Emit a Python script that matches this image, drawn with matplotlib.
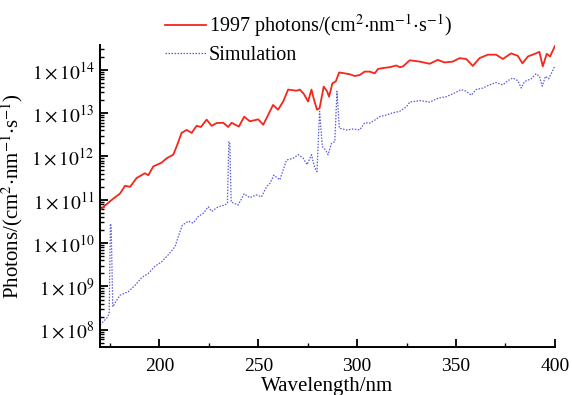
import matplotlib
matplotlib.use('Agg')
from matplotlib import pyplot as plt
from matplotlib.ticker import FixedLocator, FixedFormatter, MultipleLocator, LogLocator

plt.rcParams['font.family'] = ['Liberation Serif', 'DejaVu Serif']
plt.rcParams['mathtext.fontset'] = 'stix'

# measured spectrum (1997)
wl_1997 = [170.0, 175.9, 180.1, 182.6, 185.2, 188.5, 192.7, 194.4, 196.9, 201.1,
           203.7, 207.0, 208.7, 211.2, 213.8, 216.3, 218.8, 221.0, 223.9, 226.4,
           228.9, 232.3, 234.8, 236.5, 240.2, 242.9, 245.7, 248.3, 250.0, 252.5,
           255.0, 257.5, 260.0, 262.6, 265.1, 269.3, 271.0, 273.0, 275.2, 276.9,
           278.0, 279.7, 281.0, 283.1, 284.8, 285.8, 287.5, 289.2, 290.9, 293.7,
           296.3, 298.8, 301.3, 303.8, 306.4, 308.9, 310.6, 313.1, 316.5, 319.8,
           321.5, 323.2, 326.6, 331.6, 336.7, 340.8, 344.2, 348.4, 351.8, 355.2,
           358.5, 361.9, 366.1, 370.3, 373.7, 377.9, 381.3, 383.6, 386.4, 390.5,
           392.2, 393.9, 395.9, 397.6, 400.0]
flux_1997 = [5.9e10, 1.0e11, 1.4e11, 2.1e11, 2.0e11, 3.2e11, 4.1e11, 3.7e11, 5.9e11, 7.2e11,
             9.1e11, 1.1e12, 1.7e12, 3.5e12, 4.1e12, 3.5e12, 5.1e12, 4.8e12, 7.1e12, 5.1e12,
             5.9e12, 6.0e12, 4.8e12, 6.0e12, 4.9e12, 8.3e12, 6.5e12, 6.9e12, 7.2e12, 5.4e12,
             9.1e12, 1.55e13, 1.2e13, 1.86e13, 3.5e13, 3.3e13, 3.5e13, 2.8e13, 1.86e13, 3.5e13,
             2.2e13, 1.2e13, 1.3e13, 4.1e13, 3.2e13, 2.4e13, 4.9e13, 5.4e13, 8.7e13, 8.3e13,
             7.9e13, 7.2e13, 7.6e13, 9.1e13, 9.1e13, 8.3e13, 1.05e14, 1.1e14, 1.15e14, 1.26e14,
             1.15e14, 1.2e14, 1.66e14, 1.55e14, 1.38e14, 1.7e14, 1.48e14, 1.55e14, 1.86e14, 1.78e14,
             1.23e14, 1.86e14, 2.24e14, 2.24e14, 1.78e14, 2.4e14, 2.1e14, 1.41e14, 2.04e14, 2.4e14,
             2.6e14, 1.2e14, 2.34e14, 2.04e14, 3.5e14]

# simulation
wl_sim = [170.0, 172.5, 173.9, 174.6, 175.2, 175.6, 176.4, 178.0, 180.1, 184.3,
          187.7, 191.0, 194.4, 197.8, 201.1, 204.5, 207.9, 209.5, 211.6, 214.6,
          217.1, 219.6, 222.2, 224.7, 226.4, 229.7, 233.1, 234.4, 235.1, 235.6,
          236.3, 239.8, 242.9, 245.7, 248.3, 249.0, 251.6, 254.2, 255.9, 257.9,
          260.9, 264.3, 267.6, 270.2, 272.7, 274.7, 276.9, 278.6, 279.7, 281.0,
          282.4, 284.1, 285.3, 287.0, 288.7, 289.8, 291.0, 294.6, 297.9, 301.3,
          303.8, 306.4, 309.4, 311.4, 314.8, 318.1, 321.5, 324.9, 326.6, 331.6,
          336.7, 340.8, 345.0, 349.2, 352.6, 355.2, 357.7, 360.2, 363.6, 367.0,
          370.3, 373.7, 376.2, 378.7, 381.3, 383.0, 384.7, 388.0, 390.5, 392.2,
          393.6, 395.3, 396.9, 400.0]
flux_sim = [1.3e8, 1.7e8, 2.0e8, 2.5e8, 2.8e10, 2.5e10, 3.4e8, 4.5e8, 6.3e8, 7.6e8,
            1.07e9, 1.6e9, 2.0e9, 2.95e9, 3.7e9, 5.4e9, 8.3e9, 1.4e10, 2.6e10, 3.2e10,
            2.9e10, 4.1e10, 4.9e10, 6.9e10, 5.4e10, 6.9e10, 7.6e10, 8.3e10, 2.2e12, 2.0e12,
            8.9e10, 7.6e10, 1.38e11, 1.12e11, 1.26e11, 1.3e11, 1.17e11, 2.0e11, 2.4e11, 3.7e11,
            2.9e11, 8.3e11, 9.1e11, 1.1e12, 9.1e11, 6.5e11, 1.1e12, 5.4e11, 4.5e11, 1.1e13,
            1.7e12, 1.4e12, 1.1e12, 2.0e12, 2.2e12, 3.2e13, 4.5e12, 4.1e12, 4.3e12, 4.1e12,
            6.0e12, 5.9e12, 7.1e12, 8.3e12, 9.1e12, 1.02e13, 1.1e13, 1.4e13, 1.8e13, 1.95e13,
            1.8e13, 2.2e13, 2.4e13, 2.9e13, 3.5e13, 3.2e13, 2.6e13, 3.5e13, 3.8e13, 4.5e13,
            5.1e13, 4.5e13, 5.6e13, 6.5e13, 5.6e13, 3.8e13, 5.4e13, 6.2e13, 8.1e13, 7.1e13,
            4.2e13, 7.1e13, 6.2e13, 1.23e14]

ytick_vals = [1e8, 1e9, 1e10, 1e11, 1e12, 1e13, 1e14]
ytick_labels = [r'$1\times10^{8}$', r'$1\times10^{9}$', r'$1\times10^{10}$',
                r'$1\times10^{11}$', r'$1\times10^{12}$', r'$1\times10^{13}$',
                r'$1\times10^{14}$']

fig = plt.figure(figsize=(5.72, 3.95), dpi=100)
ax = fig.add_axes([0.175, 0.1215, 0.795, 0.765])

ax.plot(wl_1997, flux_1997, color='#f5261a', lw=1.3,
        label=r'1997 photons/(cm$^{2}$$\cdot$nm$^{-1}$$\cdot$s$^{-1}$)')
ax.plot(wl_sim, flux_sim, color='#5a5ad6', lw=0.9, ls=(0, (1.2, 1.2)),
        label='Simulation')

ax.set_yscale('log')
ax.set_xlim(170, 400)
ax.set_ylim(10**7.603, 10**14.577)

ax.xaxis.set_major_locator(MultipleLocator(50))
ax.xaxis.set_minor_locator(MultipleLocator(25))
ax.yaxis.set_major_locator(FixedLocator(ytick_vals))
ax.yaxis.set_major_formatter(FixedFormatter(ytick_labels))
ax.yaxis.set_minor_locator(LogLocator(base=10, subs=range(2, 10), numticks=20))

for s in ['top', 'right']:
    ax.spines[s].set_visible(False)
for s in ['left', 'bottom']:
    ax.spines[s].set_linewidth(1.4)

ax.tick_params(which='major', direction='in', length=6, width=1.3, labelsize=14)
ax.tick_params(which='minor', direction='in', length=3, width=1.0)
ax.tick_params(axis='x', pad=8)
ax.tick_params(axis='y', pad=4)

ax.set_xlabel('Wavelength/nm', fontsize=15, labelpad=1)
ax.set_ylabel(r'Photons/(cm$^{2}$$\cdot$nm$^{-1}$$\cdot$s$^{-1}$)', fontsize=15, labelpad=5)

fig.legend(loc='upper left', bbox_to_anchor=(0.268, 1.0), frameon=False,
           fontsize=14.5, handlelength=2.0, handletextpad=0.15, labelspacing=0.35,
           borderaxespad=0.2)

fig.savefig('out.png', dpi=100)
